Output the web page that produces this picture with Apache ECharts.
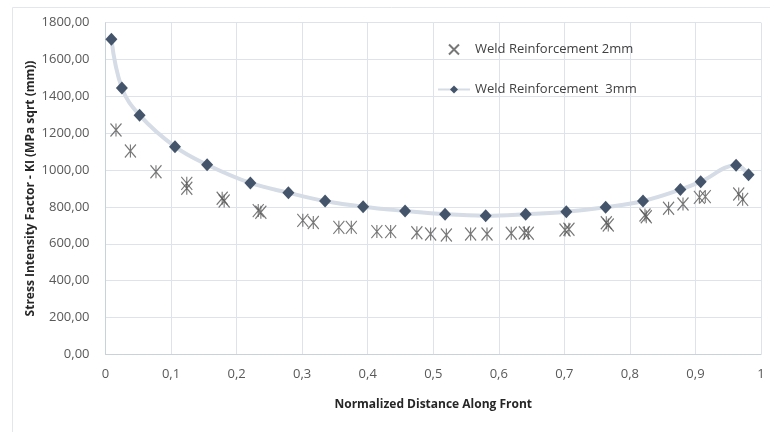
<!DOCTYPE html>
<html>
<head>
<meta charset="utf-8">
<script src="https://cdn.jsdelivr.net/npm/echarts@6/dist/echarts.min.js"></script>
<style>
  html, body { margin: 0; padding: 0; background: #ffffff; }
  #chart { width: 770px; height: 432px; }
</style>
</head>
<body>
<div id="chart"></div>
<script>
// Normalized position along the crack front and stress intensity factor KI
const reinf2mmX = [0.016, 0.038, 0.077, 0.124, 0.124, 0.178, 0.181, 0.233, 0.237,
  0.301, 0.317, 0.356, 0.375, 0.414, 0.435, 0.475, 0.496, 0.52, 0.557, 0.582,
  0.619, 0.639, 0.645, 0.701, 0.707, 0.764, 0.767, 0.823, 0.825, 0.859, 0.881,
  0.906, 0.915, 0.966, 0.972];
const reinf2mmKI = [1218, 1104, 991, 928, 901, 847, 832, 780, 771,
  727, 715, 689, 689, 666, 666, 660, 653, 648, 653, 653,
  657, 660, 657, 675, 679, 714, 702, 756, 747, 793, 816,
  852, 856, 870, 841];

const reinf3mmX = [0.009, 0.025, 0.052, 0.106, 0.155, 0.221, 0.279, 0.335, 0.393,
  0.457, 0.518, 0.58, 0.641, 0.703, 0.763, 0.82, 0.877, 0.908, 0.962, 0.981];
const reinf3mmKI = [1710, 1446, 1298, 1127, 1029, 930, 877, 832, 801,
  778, 760, 752, 760, 774, 798, 832, 894, 937, 1026, 975];

const xTicks = [0, 0.1, 0.2, 0.3, 0.4, 0.5, 0.6, 0.7, 0.8, 0.9, 1];
const yTicks = [0, 200, 400, 600, 800, 1000, 1200, 1400, 1600, 1800];

const series2mm = reinf2mmX.map((x, i) => [x, reinf2mmKI[i]]);
const series3mm = reinf3mmX.map((x, i) => [x, reinf3mmKI[i]]);

// asterisk marker: an X crossed by a vertical stroke
const asteriskPath = 'path://M0,0L10,12M10,0L0,12M5,0L5,12';
// the legend shows a plain cross for the same series
const crossPath = 'path://M0,0L10,10M10,0L0,10';

const fontFamily = '"Open Sans", "Liberation Sans", sans-serif';
const gridColor = '#dde3ea';

const chart = echarts.init(document.getElementById('chart'), null, { renderer: 'canvas' });

chart.setOption({
  animation: false,
  backgroundColor: '#ffffff',
  textStyle: { fontFamily },
  graphic: [{
    type: 'rect',
    shape: { x: 12.5, y: 7.5, width: 800, height: 500 },
    style: { fill: 'none', stroke: '#e3e6ea', lineWidth: 1 },
    silent: true,
    z: -10
  }],
  grid: { left: 105.5, right: 9, top: 22.7, bottom: 77.7 },
  legend: {
    orient: 'vertical',
    left: 432,
    top: 37,
    itemGap: 26,
    itemWidth: 32,
    itemHeight: 10,
    textStyle: { fontSize: 13, color: '#404040', fontFamily },
    data: [
      { name: 'Weld Reinforcement 2mm', icon: crossPath },
      { name: 'Weld Reinforcement  3mm' }
    ]
  },
  xAxis: {
    type: 'value',
    min: xTicks[0],
    max: xTicks[xTicks.length - 1],
    interval: 0.1,
    name: 'Normalized Distance Along Front',
    nameLocation: 'middle',
    nameGap: 44,
    nameMoveOverlap: false,
    nameTextStyle: { fontSize: 12, fontWeight: 'bold', color: '#262626', fontFamily },
    axisLine: { show: true, lineStyle: { color: '#c9d1db', width: 1 } },
    axisTick: { show: false },
    axisLabel: {
      fontSize: 13, color: '#595959', margin: 13,
      formatter: v => String(Math.round(v * 10) / 10).replace('.', ',')
    },
    splitLine: { show: true, lineStyle: { color: gridColor, width: 1 } }
  },
  yAxis: {
    type: 'value',
    min: yTicks[0],
    max: yTicks[yTicks.length - 1],
    interval: 200,
    name: 'Stress Intensity Factor - KI (MPa sqrt (mm))',
    nameLocation: 'middle',
    nameGap: 69,
    nameMoveOverlap: false,
    nameTextStyle: { fontSize: 12, fontWeight: 'bold', color: '#262626', fontFamily },
    axisLine: { show: true, lineStyle: { color: '#c9d1db', width: 1 } },
    axisTick: { show: false },
    axisLabel: {
      fontSize: 13, color: '#595959', margin: 16,
      formatter: v => v.toFixed(2).replace('.', ',')
    },
    splitLine: { show: true, lineStyle: { color: gridColor, width: 1 } }
  },
  series: [
    {
      name: 'Weld Reinforcement 2mm',
      type: 'scatter',
      data: series2mm,
      symbol: asteriskPath,
      symbolSize: [11, 13],
      itemStyle: { color: 'none', borderColor: '#555555', borderWidth: 1.2 },
      z: 3
    },
    {
      name: 'Weld Reinforcement  3mm',
      type: 'line',
      data: series3mm,
      smooth: 0.4,
      symbol: 'diamond',
      symbolSize: [12, 13],
      showAllSymbol: true,
      lineStyle: { color: '#d5dce5', width: 4 },
      itemStyle: { color: '#44546a', borderWidth: 0 },
      z: 4
    }
  ]
});
</script>
</body>
</html>
